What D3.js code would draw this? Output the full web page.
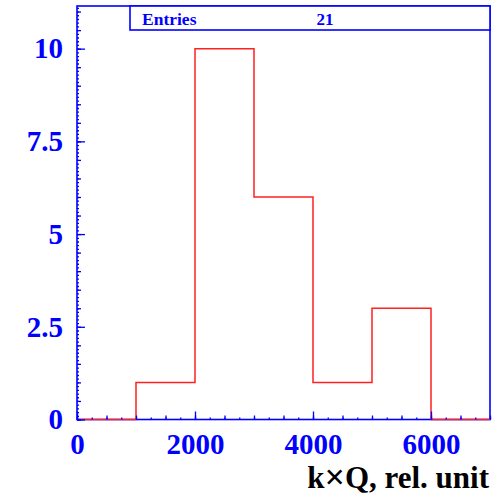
<!DOCTYPE html>
<html>
<head>
<meta charset="utf-8">
<script src="https://cdn.jsdelivr.net/npm/d3@7"></script>
<style>
  body { margin: 0; background: #fff; }
  text { font-family: "Liberation Serif", "Times New Roman", serif; font-weight: bold; }
</style>
</head>
<body>
<svg width="496" height="496"></svg>
<script>
// bins of 1000 rel. units, lower edges
var binLow = [0, 1000, 2000, 3000, 4000, 5000, 6000];
var counts = [0, 1, 10, 6, 1, 3, 0];
var xTickValues = [0, 2000, 4000, 6000];
var xTickLabels = ["0", "2000", "4000", "6000"];
var yTickValues = [0, 2.5, 5, 7.5, 10];
var yTickLabels = ["0", "2.5", "5", "7.5", "10"];
var entries = 21;

var svg = d3.select("svg"),
    blue = "#0000ff",
    padL = 77, padR = 490, padT = 6, padB = 419.5;

var x = d3.scaleLinear().domain([0, 7000]).range([padL, padR]);
var y = d3.scaleLinear().domain([0, 11.15]).range([padB, padT]);

// frame
svg.append("rect")
    .attr("x", padL).attr("y", padT)
    .attr("width", padR - padL).attr("height", padB - padT)
    .attr("fill", "none").attr("stroke", blue).attr("stroke-width", 1.6);

// histogram outline
var pts = binLow.map((b, i) => [b, counts[i]]);
pts.push([7000, counts[counts.length - 1]]);
var line = d3.line()
    .x(d => x(d[0]))
    .y(d => y(d[1]))
    .curve(d3.curveStepAfter);

svg.append("path")
    .datum(pts)
    .attr("d", line)
    .attr("fill", "none")
    .attr("stroke", "#ff2020")
    .attr("stroke-width", 1.5);

// ticks, three levels, pointing inward
function tickAxis(axis, vals, size, tr) {
    var g = svg.append("g").attr("transform", tr)
        .call(axis.tickValues(vals).tickSize(-size).tickFormat(""));
    g.select(".domain").remove();
    g.selectAll("line").attr("stroke", blue).attr("stroke-width", 1.3);
    return g;
}
tickAxis(d3.axisBottom(x), d3.range(0, 29).map(i => i * 250), 2, "translate(0," + padB + ")");
tickAxis(d3.axisBottom(x), d3.range(0, 15).map(i => i * 500), 4, "translate(0," + padB + ")");
tickAxis(d3.axisLeft(y), d3.range(0, 112).map(i => i / 10), 2, "translate(" + padL + ",0)");
tickAxis(d3.axisLeft(y), d3.range(0, 23).map(i => i / 2), 4, "translate(" + padL + ",0)");

var xAxis = svg.append("g")
    .attr("transform", "translate(0," + padB + ")")
    .call(d3.axisBottom(x).tickValues(xTickValues)
        .tickFormat((d, i) => xTickLabels[i])
        .tickSizeInner(-8).tickSizeOuter(0).tickPadding(14));
xAxis.select(".domain").remove();
xAxis.selectAll("line").attr("stroke", blue).attr("stroke-width", 1.3);
xAxis.selectAll("text").attr("fill", blue).style("font-size", "29px")
    .style("font-family", "Liberation Serif").style("font-weight", "bold");

var yAxis = svg.append("g")
    .attr("transform", "translate(" + padL + ",0)")
    .call(d3.axisLeft(y).tickValues(yTickValues)
        .tickFormat((d, i) => yTickLabels[i])
        .tickSizeInner(-8).tickSizeOuter(0).tickPadding(14));
yAxis.select(".domain").remove();
yAxis.selectAll("line").attr("stroke", blue).attr("stroke-width", 1.3);
yAxis.selectAll("text").attr("fill", blue).style("font-size", "29px")
    .style("font-family", "Liberation Serif").style("font-weight", "bold");

// stats box
svg.append("rect")
    .attr("x", 130).attr("y", padT)
    .attr("width", padR - 130).attr("height", 24)
    .attr("fill", "#fff").attr("stroke", blue).attr("stroke-width", 1.6);
svg.append("text")
    .attr("x", 142).attr("y", 25)
    .attr("fill", blue).style("font-size", "17.5px")
    .text("Entries");
svg.append("text")
    .attr("x", 325).attr("y", 25)
    .attr("text-anchor", "middle")
    .attr("fill", blue).style("font-size", "17px")
    .text(entries);

// axis title, bigger times sign like ROOT's #times
var title = svg.append("text")
    .attr("x", 489).attr("y", 488)
    .attr("text-anchor", "end")
    .attr("fill", "#000").style("font-size", "31px");
title.append("tspan").text("k");
title.append("tspan").style("font-size", "36px").attr("dy", 1).text("\u00d7");
title.append("tspan").attr("dy", -1).text("Q, rel. unit");
</script>
</body>
</html>
